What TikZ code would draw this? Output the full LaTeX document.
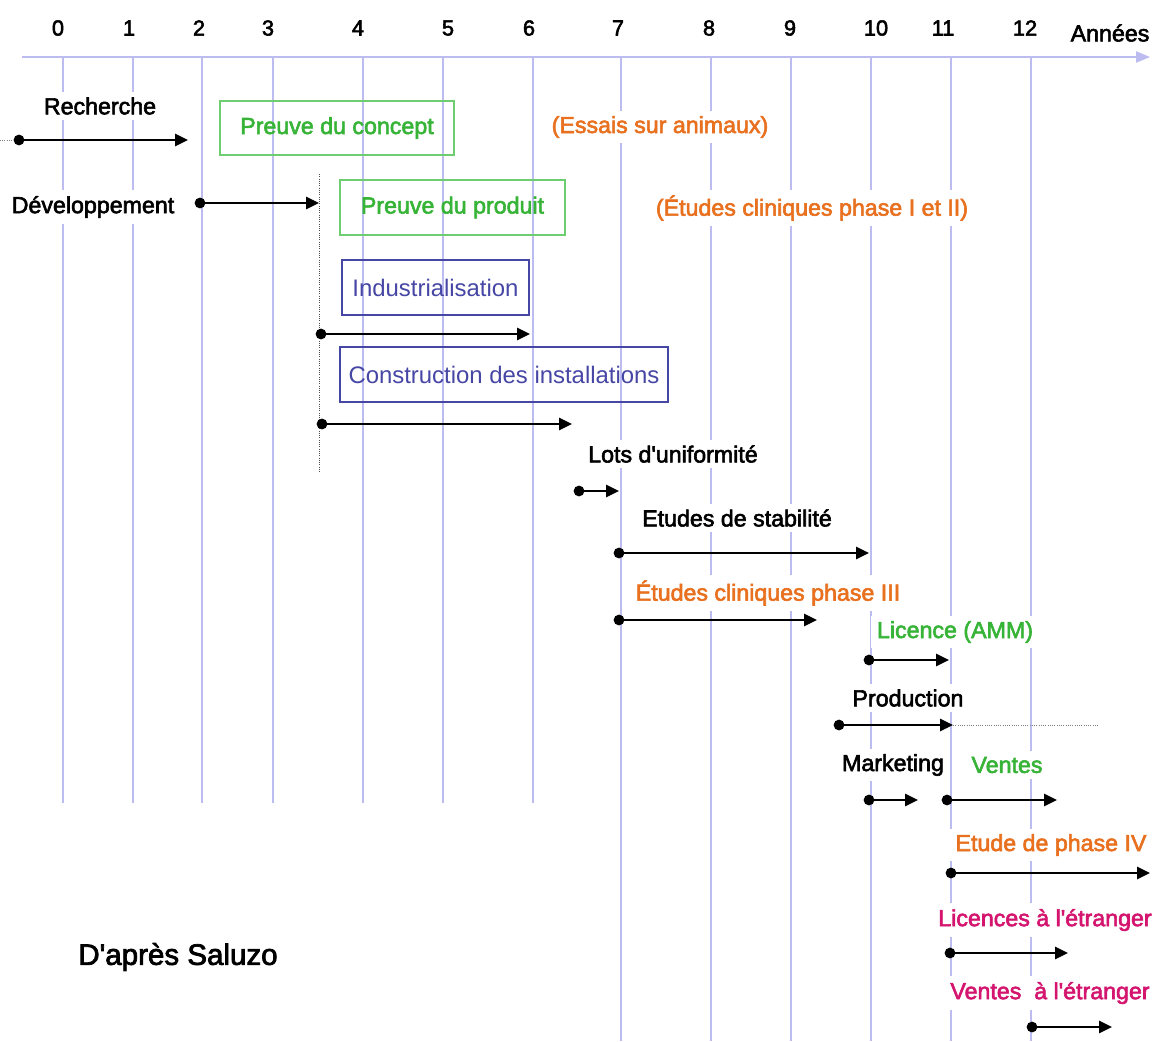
\documentclass[tikz,border=0pt]{standalone}
\usepackage{fontspec}
\setmainfont{Liberation Sans}
\newfontfamily\gras{Liberation Sans}[FakeBold=2.5]
\usepackage{xcolor}
\usetikzlibrary{arrows.meta}

\definecolor{grille}{RGB}{188,188,240}
\definecolor{vertT}{RGB}{55,180,55}
\definecolor{vertB}{RGB}{110,205,110}
\definecolor{orangeT}{RGB}{232,112,30}
\definecolor{bleuT}{RGB}{70,70,165}
\definecolor{roseT}{RGB}{212,20,110}

\begin{document}
\begin{tikzpicture}[x=0.025cm, y=-0.025cm,
    txt/.style={font=\gras\fontsize{16.5}{20}\selectfont, inner sep=4pt, fill=white},
    annee/.style={font=\gras\fontsize{15.5}{18}\selectfont, inner sep=1pt},
    boite/.style={draw, line width=1pt, inner sep=0pt},
    fleche/.style={line width=1.5pt, -{Triangle[length=0.32cm,width=0.3cm]}},
    puce/.style={circle, fill=black, inner sep=0pt, minimum size=0.27cm},
    pointille/.style={densely dotted, line width=0.6pt, black!70}
]
    \useasboundingbox (0,0) rectangle (1154,1041);

    %GRILLE
    \foreach \x/\l/\n/\b in {63/58/0/803, 133/129/1/803, 202/199/2/803, 273/268/3/803,
        363/358/4/803, 443/448/5/803, 533/529/6/803, 621/618/7/1041, 711/709/8/1041,
        791/790/9/1041, 871/876/10/1041, 951/943/11/1041, 1031/1025/12/1041}
    {
        \draw[grille, line width=0.75pt] (\x,57) -- (\x,\b);
        \node[annee] (an\n) at (\l,28) {\n};
    }

    %AXE
    \draw[grille, line width=1.2pt, -{Triangle[length=0.35cm,width=0.28cm]}] (22,57) -- (1150,57);
    \node[annee, font=\gras\fontsize{16.5}{20}\selectfont] (annees) at (1110,33) {Années};

    %ETIQUETTES
    \node[txt] (rech) at (100,106) {Recherche};
    \node[txt] (dev) at (93,207) {Développement};
    \node[txt, text=orangeT] (essais) at (660,127) {(Essais sur animaux)};
    \node[txt, text=orangeT] (clin) at (812,208) {(Études cliniques phase I et II)};
    \node[txt] (lots) at (673,454) {Lots d'uniformité};
    \node[txt] (stab) at (737,518) {Etudes de stabilité};
    \node[txt, text=orangeT] (clintrois) at (768,593) {Études cliniques phase III};
    \node[txt, text=vertT] (amm) at (955,632) {Licence (AMM)};
    \node[txt] (prod) at (908,698) {Production};
    \node[txt] (mark) at (893,765) {Marketing};
    \node[txt, text=vertT] (ventes) at (1007,765) {Ventes};
    \node[txt, text=orangeT] (quatre) at (1051,845) {Etude de phase IV};
    \node[txt, text=roseT] (licetr) at (1045,920) {Licences à l'étranger};
    \node[txt, text=roseT] (venetr) at (1050,993) {Ventes~ à l'étranger};
    \node[txt, font=\gras\fontsize{21}{24}\selectfont] (saluzo) at (178,957) {D'après Saluzo};

    %BOITES
    \node[boite, draw=vertB, text=vertT, font=\gras\fontsize{16.5}{20}\selectfont,
        minimum width=5.85cm, minimum height=1.35cm] (concept) at (337,128) {Preuve du concept};
    \node[boite, draw=vertB, text=vertT, font=\gras\fontsize{16.5}{20}\selectfont,
        minimum width=5.625cm, minimum height=1.375cm] (produit) at (452.5,207.5) {Preuve du produit};
    \node[boite, draw=bleuT, text=bleuT, font=\fontsize{17}{20}\selectfont,
        minimum width=4.675cm, minimum height=1.375cm] (indus) at (435.5,287.5) {Industrialisation};
    \node[boite, draw=bleuT, text=bleuT, font=\fontsize{17}{20}\selectfont,
        minimum width=8.2cm, minimum height=1.375cm] (constr) at (504,374.5) {Construction des installations};

    %POINTILLES
    \coordinate (vhaut) at (319,174);
    \coordinate (vbas) at (319,472);
    \draw[pointille] (vhaut) -- (vbas);

    %FLECHES
    \node[puce] (d1) at (19,140) {};       \coordinate (f1) at (188,140);
    \node[puce] (d2) at (200,203) {};      \coordinate (f2) at (319,203);
    \node[puce] (d3) at (321,334) {};      \coordinate (f3) at (530,334);
    \node[puce] (d4) at (322,424) {};      \coordinate (f4) at (572,424);
    \node[puce] (d5) at (579,491) {};      \coordinate (f5) at (619,491);
    \node[puce] (d6) at (619,553) {};      \coordinate (f6) at (869,553);
    \node[puce] (d7) at (619,620) {};      \coordinate (f7) at (817,620);
    \node[puce] (d8) at (869,660) {};      \coordinate (f8) at (949,660);
    \node[puce] (d9) at (839,725) {};      \coordinate (f9) at (953,725);
    \node[puce] (d10) at (869,800) {};     \coordinate (f10) at (918,800);
    \node[puce] (d11) at (947,800) {};     \coordinate (f11) at (1057,800);
    \node[puce] (d12) at (951,873) {};     \coordinate (f12) at (1150,873);
    \node[puce] (d13) at (950,953) {};     \coordinate (f13) at (1068,953);
    \node[puce] (d14) at (1032,1027) {};   \coordinate (f14) at (1112,1027);
    \foreach \i in {1,...,14}
        \draw[fleche] (d\i.center) -- (f\i);

    \coordinate (rgauche) at (0,140);
    \draw[pointille, gray] (rgauche) -- (d1);
    \coordinate (pdroite) at (1098,725);
    \draw[pointille, gray] (f9) -- (pdroite);

\end{tikzpicture}
\end{document}
